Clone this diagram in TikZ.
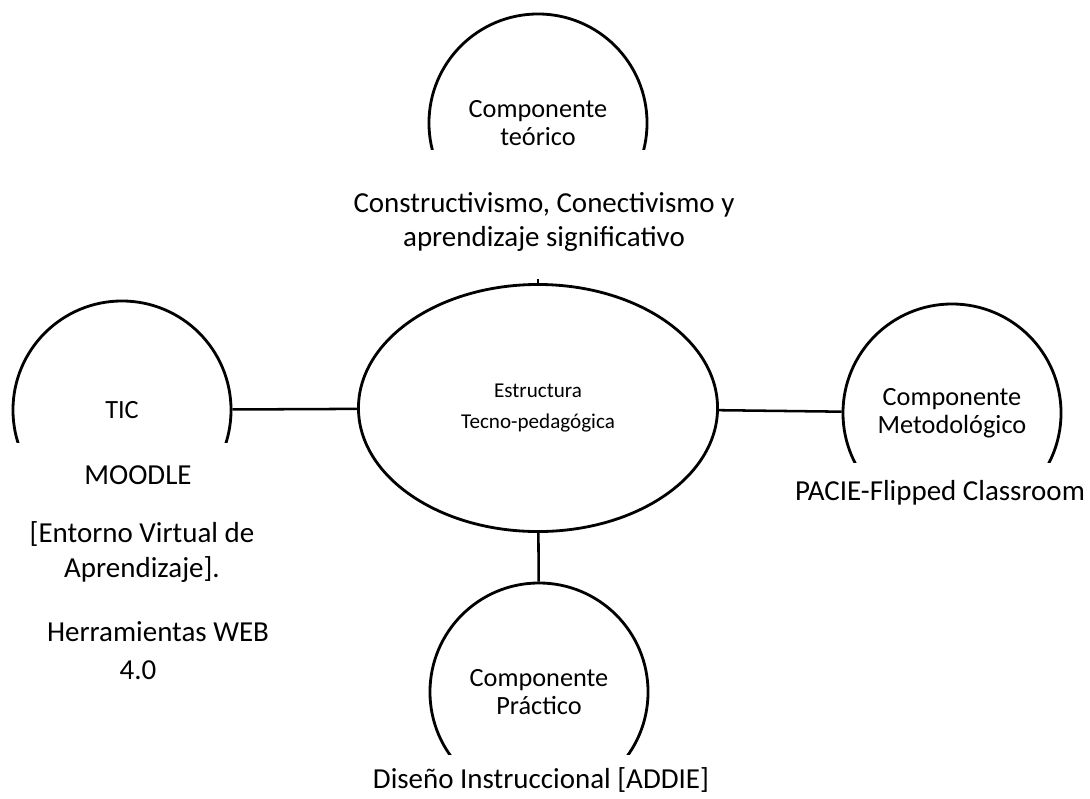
\documentclass[tikz,border=0pt]{standalone}
\usepackage{fontspec}
\setmainfont{Carlito}
\usetikzlibrary{shapes.geometric}

\begin{document}
\begin{tikzpicture}[x=0.025cm, y=-0.025cm,
  comp/.style={draw, circle, line width=2pt, minimum size=5.45cm, inner sep=0pt,
    align=center, font=\fontsize{18.7}{20}\selectfont},
  centro/.style={draw, ellipse, line width=2pt, minimum width=8.975cm,
    minimum height=6.175cm, inner sep=0pt, align=center, font=\fontsize{15}{22.7}\selectfont},
  conn/.style={line width=1.8pt},
  etiq/.style={align=center, inner sep=0pt, font=\fontsize{20.6}{24.8}\selectfont}]
\useasboundingbox (0,0) rectangle (1090,798);
% components
\node[comp] (teo) at (538,123) {Componente\\teórico};
\node[comp] (tic) at (122,410) {TIC};
\node[comp] (met) at (952,413) {Componente\\Metodológico};
\node[comp] (pra) at (539,692) {Componente\\Práctico};
\node[centro] (est) at (538,408) {Estructura\\Tecno-pedagógica};
\draw[conn] (teo) -- (est);
\draw[conn] (tic) -- (est);
\draw[conn] (est) -- (met);
\draw[conn] (est) -- (pra);
% text boxes over the circles
\fill[white] (330,150) rectangle (750,279);
\fill[white] (0,443) rectangle (300,700);
\fill[white] (760,463) rectangle (1090,530);
\fill[white] (360,755) rectangle (720,830);
\node[etiq] (teoTxt) at (544,222) {Constructivismo, Conectivismo y\\aprendizaje significativo};
\node[etiq] (moodle) at (138,475) {MOODLE};
\node[etiq] (eva) at (142,552) {[Entorno Virtual de\\Aprendizaje].};
\node[etiq] (web) at (158,632) {Herramientas WEB};
\node[etiq] (webVer) at (138,670) {4.0};
\node[etiq] (pacie) at (940,493) {PACIE-Flipped Classroom};
\node[etiq] (addie) at (541,780) {Diseño Instruccional [ADDIE]};
\end{tikzpicture}
\end{document}
